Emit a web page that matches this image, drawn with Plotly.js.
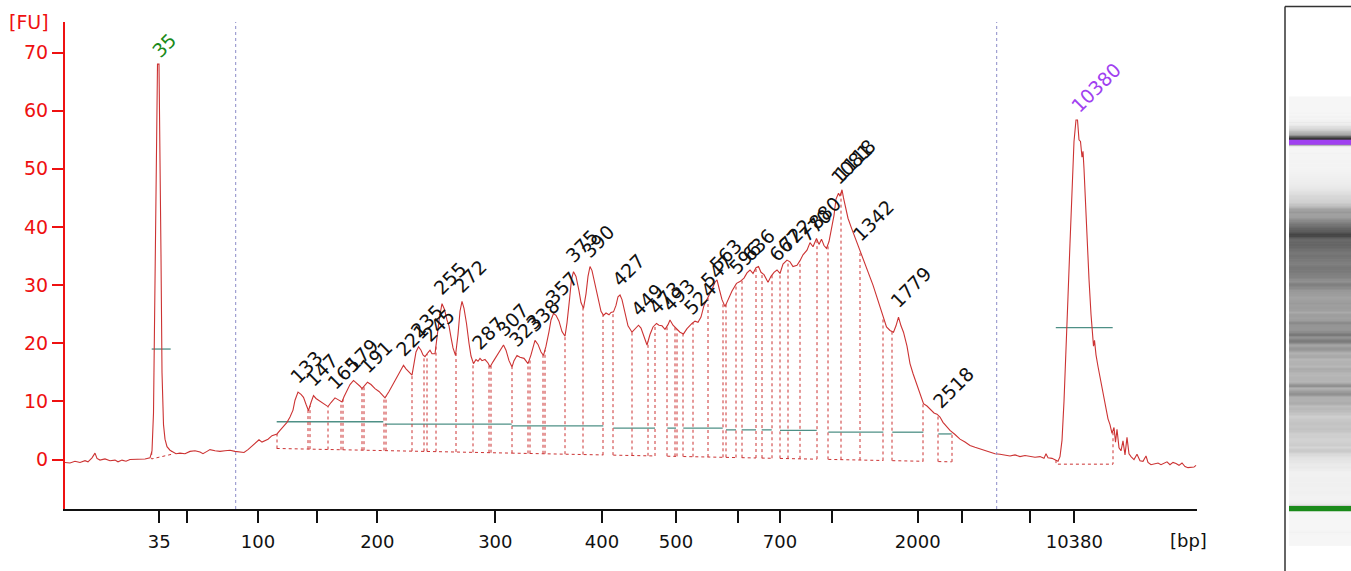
<!DOCTYPE html>
<html>
<head>
<meta charset="utf-8">
<script src="https://cdn.plot.ly/plotly-3.0.1.min.js"></script>
<style>
  html, body { margin: 0; padding: 0; background: #fff; }
  #chart { width: 1351px; height: 571px; }
</style>
</head>
<body>
<div id="chart"></div>
<script>
// Electropherogram trace: migration position vs fluorescence [FU]
const migration = [
  65, 70, 75, 80, 85, 88, 92, 95, 97, 100, 105, 110, 115, 118, 122, 126, 130, 135, 140, 145,
  150, 152, 153.5, 155, 156.5, 157.5, 159, 160, 161, 162, 163.5, 165, 167, 170, 173, 176, 180,
  185, 190, 195, 200, 203, 207, 210, 215, 220, 225, 230, 235, 240, 244, 248, 252, 256, 259, 262,
  265, 268, 272, 277, 280, 283, 287, 290, 293, 295, 298, 301, 303.5, 306, 308.5, 311, 313.5, 316,
  318.5, 322, 325, 328, 331, 335, 338, 342, 344, 347, 350, 353.5, 357, 360, 362, 364.5, 367.5,
  371, 375, 379, 382, 385, 389, 393, 397, 400, 403.5, 406, 409, 412, 414, 416, 418.5, 421, 423,
  425, 428, 430, 432, 435, 437, 439.5, 442, 444.5, 447, 449, 451, 453, 455.5, 458, 460, 462, 464,
  466.5, 469, 471, 473.5, 476, 478, 480, 482, 485, 488, 490, 493, 496, 500, 503.5, 506, 509, 512,
  514, 517, 520, 524, 528, 531, 535, 538, 541, 543.5, 546, 549, 551, 553.5, 556, 559, 562, 565,
  567, 569.5, 571.5, 573.5, 576, 579, 581, 583.5, 586, 588, 590, 592, 595, 598, 601, 603.5, 606,
  609, 611, 613.5, 616, 618, 620, 622, 625, 628, 632, 635, 638.5, 641, 644, 647, 650, 653, 656.5,
  659, 662, 665, 668, 670, 673, 676.5, 680, 683.5, 687, 692, 695, 698, 701, 704, 708.5, 712, 715,
  717, 719, 722, 725, 728, 732, 736.5, 740, 744, 747, 750, 753, 756, 758.5, 761, 764, 768, 771,
  774, 777, 780, 783, 787, 790, 793, 797, 800, 803, 807, 810, 813, 816.5, 819, 821.5, 824, 826.5,
  829, 831.5, 834, 836, 838.5, 840, 842, 843.5, 845.5, 848, 851.5, 855, 860, 863, 866, 870, 873,
  876, 880, 883, 886.5, 890, 893.5, 896, 898.5, 901, 903.5, 907, 910, 913, 916.5, 920, 923.5, 927,
  930, 934, 937, 940, 943, 946, 950, 955, 960, 965, 970, 975, 980, 985, 990, 995, 1000, 1005,
  1010, 1015, 1020, 1025, 1030, 1035, 1040, 1044, 1046, 1048, 1052, 1055, 1058, 1060, 1062, 1064,
  1066, 1068, 1070, 1072, 1074, 1076, 1077.5, 1079, 1080.5, 1082, 1083, 1084, 1086, 1087.5, 1089,
  1091, 1092.5, 1093.5, 1094.5, 1096, 1098, 1100, 1102, 1104, 1106, 1108, 1110, 1112, 1114,
  1115.5, 1117, 1119, 1121, 1123, 1125, 1127, 1129, 1131, 1134, 1137, 1140, 1143, 1146, 1148,
  1151, 1155, 1158, 1161, 1164, 1167, 1170, 1173, 1176, 1179, 1182, 1185, 1188, 1191, 1194, 1196
];
const fluorescence = [
  -0.5, -0.6, -0.3, -0.5, -0.2, -0.4, 0.3, 1.1, 0.2, -0.1, 0.1, -0.2, -0.1, -0.4, -0.1, -0.3, 0.0, 0.0, 0.1, 0.1,
  0.3, 1.5, 8, 30, 55, 68, 68, 55, 35, 15, 6, 3.5, 2.2, 1.6, 1.3, 1.0, 1.1,
  1.0, 1.4, 1.5, 1.3, 1.0, 1.4, 1.7, 1.5, 1.4, 1.5, 1.6, 1.4, 1.3, 1.2, 1.7, 2.3, 2.8, 3.4, 3.0,
  3.2, 3.5, 4.1, 4.4, 5.0, 5.6, 6.4, 7.3, 8.5, 10.2, 11.6, 11.2, 10.7, 9.5, 8.4, 9.8, 11.0, 10.5,
  10.2, 9.8, 9.4, 9.1, 9.8, 10.6, 10.3, 9.9, 10.8, 11.9, 12.9, 13.6, 13.1, 12.6, 12.2, 12.8, 13.3,
  12.9, 12.2, 11.7, 11.1, 10.6, 11.7, 13.0, 14.2, 15.3, 16.2, 15.6, 15.1, 14.5, 16.5, 18.5, 19.4, 18.8, 18.0,
  17.7, 18.4, 18.8, 18.2, 18.2, 21.0, 24.5, 26.8, 25.8, 24.0, 23.0, 21.0, 19.2, 17.9, 21.5, 25.5, 27.2, 26.0,
  23.4, 20.0, 17.8, 16.5, 17.2, 16.9, 17.4, 17.0, 17.2, 16.6, 15.9, 16.8, 17.6, 18.9, 19.7, 18.8, 17.0, 15.9,
  17.0, 17.9, 17.6, 17.4, 16.5, 18.0, 20.5, 19.8, 18.5, 17.9, 19.5, 22.0, 24.0, 25.1, 24.8, 23.8, 22.0, 21.2,
  23.5, 27.5, 31.0, 32.3, 31.5, 29.0, 27.0, 26.0, 28.5, 31.5, 33.2, 32.5, 30.0, 27.5, 25.5, 24.8, 25.2,
  24.9, 25.3, 25.4, 26.5, 28.0, 28.3, 27.5, 25.0, 23.0, 21.9, 22.5, 23.1, 22.6, 21.0, 19.7, 21.5, 22.8, 23.4,
  23.1, 23.0, 22.4, 23.2, 24.0, 23.1, 22.5, 21.9, 21.6, 22.5, 23.4, 23.8, 23.6, 24.5, 26.5, 28.0, 29.3, 30.5,
  30.9, 29.5, 27.5, 26.3, 27.5, 29.0, 30.3, 30.6, 31.2, 32.1, 32.6, 32.0, 33.0, 33.2, 32.2, 31.8, 30.5, 31.5,
  32.2, 32.6, 32.0, 33.6, 34.3, 34.0, 33.2, 33.4, 34.2, 35.2, 36.0, 37.3, 36.6, 38.0, 37.0, 37.9, 36.8, 36.3,
  37.5, 39.5, 42.0, 44.8, 45.8, 45.3, 46.4, 45.0, 43.5, 41.5, 39.8, 38.2, 36.0, 34.8, 33.5, 31.4, 30.0,
  28.4, 26.3, 24.5, 22.8, 22.2, 21.9, 23.0, 24.5, 23.0, 21.9, 19.5, 16.5, 14.8, 13.0, 11.2, 9.6, 9.2,
  8.7, 8.0, 7.8, 7.3, 6.4, 5.8, 5.0, 4.3, 3.5, 3.0, 2.4, 2.1, 1.8, 1.5, 1.2, 1.0, 0.9, 0.8,
  0.6, 0.8, 0.5, 0.7, 0.6, 0.4, 0.5, 0.2, 1.0, 0.3, 0.2, 0.0, -0.3, 0.5, 3.3, 10,
  18, 28, 37.2, 47, 54.7, 58.4, 58.4, 55, 54.7, 52, 53, 50, 42, 35.4, 31,
  25, 22.0, 19.5, 20.5, 18, 16, 14.2, 12.5, 10.5, 9.0, 7.0, 6.0, 4.5, 5.5,
  3.0, 5.2, 2.0, 1.5, 3.2, 0.8, 3.8, 1.0, 0.5, 0.0, 0.9, -0.2, -0.3, 0.6, -0.5,
  -0.9, -0.8, -0.6, -0.9, -0.7, -0.4, -0.9, -0.5, -0.7, -1.0, -0.6, -1.2, -1.4, -1.4, -1.3, -1.0
];

// Ladder positions on the migration axis and their size labels [bp]
const ladderPos = [159.3, 187.3, 258, 317.3, 377.3, 495.3, 602, 676, 737.7, 780, 832, 917.7, 962.3, 1030, 1074.3];
const ladderLabels = ["35", "", "100", "", "200", "300", "400", "500", "", "700", "", "2000", "", "", "10380"];

// Sizing window edges
const windowEdges = [235.7, 996.7];

// Called peaks
const peakSize = ["133", "147", "165", "179", "191", "221", "235", "245", "255", "272", "287", "307",
  "323", "338", "357", "375", "390", "427", "449", "473", "493", "524", "547", "563", "596", "636",
  "667", "722", "770", "880", "1081", "1118", "1342", "1779", "2518"];
const peakMig = [298, 313.5, 335, 353.5, 367.5, 403.5, 418.5, 430, 442, 462, 480, 503.5,
  517, 535, 553.5, 573.5, 590, 620, 638.5, 656.5, 670, 692, 708.5, 717, 736.5, 750,
  777, 787, 807, 816.5, 838.5, 842, 860, 898.5, 940];

// Markers
const markerSize = ["35", "10380"];
const markerMig = [158.3, 1076.7];
const markerColor = ["#1a8a1a", "#a040f0"];
const markerBoxX = [[151.7, 171.7], [1056, 1113]];
const markerBoxFU = [[0.1, 0.9], [-0.8, -0.8]];

// Peak region edges (dotted verticals)
const regionEdges = [277, 308, 310, 328, 341, 343, 362, 364, 384, 386, 412, 424, 427, 436, 456,
  473, 489, 491, 512, 528, 530, 543, 545, 565, 583, 603, 613, 632, 648, 655, 667, 675, 677, 683,
  693, 708, 723, 726, 736, 742, 756, 762, 772, 780, 788, 800, 817, 828, 841, 860, 883, 892, 923,
  938, 952];

// Region spans with their width-line level [FU]
const spanStart = [151.7, 276.7, 385, 511.7, 613.3, 667.3, 683.3, 726, 741.7, 761.7, 780, 828.3, 892.3, 938.3, 1055.8];
const spanEnd = [170.7, 383.3, 511.7, 603.3, 655, 676, 722.7, 736, 756, 771.7, 816.7, 883.3, 923.3, 951.7, 1112.7];
const spanLevel = [19.0, 6.5, 6.1, 5.8, 5.4, 5.4, 5.4, 5.1, 5.1, 5.1, 5.0, 4.7, 4.7, 4.4, 22.7];

// Sample baseline (two end points)
const baselineX = [276.7, 952];
const baselineFU = [1.9, -0.4];

function interp(xs, ys, x) {
  if (x <= xs[0]) return ys[0];
  for (let i = 0; i < xs.length - 1; i++) {
    if (x <= xs[i + 1]) {
      const t = (x - xs[i]) / (xs[i + 1] - xs[i]);
      return ys[i] + t * (ys[i + 1] - ys[i]);
    }
  }
  return ys[ys.length - 1];
}
const fuAt = (x) => interp(migration, fluorescence, x);
const baseAt = (x) => interp(baselineX, baselineFU, x);

const RED = "#cc3333";
const AXIS_RED = "#ee1111";
const TEAL = "#4e9086";
const FONT = "DejaVu Sans";

// dotted region boxes
const boxX = [], boxY = [];
regionEdges.forEach((e) => {
  boxX.push(e, e, null);
  boxY.push(baseAt(e), fuAt(e), null);
});
for (let i = 1; i < spanStart.length - 1; i++) {
  boxX.push(spanStart[i], spanEnd[i], null);
  boxY.push(baseAt(spanStart[i]), baseAt(spanEnd[i]), null);
}
markerBoxX.forEach((bx, i) => {
  boxX.push(bx[0], bx[0], bx[1], bx[1], null);
  boxY.push(fuAt(bx[0]), markerBoxFU[i][0], markerBoxFU[i][1], fuAt(bx[1]), null);
});

// width lines
const tealX = [], tealY = [];
spanStart.forEach((s, i) => {
  tealX.push(s, spanEnd[i], null);
  tealY.push(spanLevel[i], spanLevel[i], null);
});

const traces = [
  {
    x: tealX, y: tealY, type: "scatter", mode: "lines",
    line: { color: TEAL, width: 1.3 }, xaxis: "x", yaxis: "y", hoverinfo: "skip"
  },
  {
    x: boxX, y: boxY, type: "scatter", mode: "lines",
    line: { color: RED, width: 1, dash: "dot" }, xaxis: "x", yaxis: "y", hoverinfo: "skip"
  },
  {
    x: migration, y: fluorescence, type: "scatter", mode: "lines",
    line: { color: RED, width: 1.1 }, xaxis: "x", yaxis: "y"
  },
  {
    // gel lane
    type: "heatmap", x: [0], y: migration, z: fluorescence.map((v) => [v]),
    zmin: 0, zmax: 50, zsmooth: false, showscale: false,
    colorscale: [[0, "rgb(246,246,246)"], [1, "rgb(55,55,55)"]],
    xaxis: "x2", yaxis: "y2", hoverinfo: "skip"
  }
];

const annotations = [];
peakSize.forEach((s, i) => {
  annotations.push({
    x: peakMig[i], y: fuAt(peakMig[i]), xref: "x", yref: "y",
    text: s, showarrow: false, textangle: -45,
    xanchor: "left", yanchor: "bottom", xshift: -15, yshift: 2,
    font: { family: FONT, size: 19, color: "#111" }
  });
});
markerSize.forEach((s, i) => {
  annotations.push({
    x: markerMig[i], y: fuAt(markerMig[i]), xref: "x", yref: "y",
    text: s, showarrow: false, textangle: -45,
    xanchor: "left", yanchor: "bottom", xshift: -13, yshift: 0,
    font: { family: FONT, size: 19, color: markerColor[i] }
  });
});
annotations.push(
  { x: 29 / 1351, y: (571 - 22) / 571, xref: "paper", yref: "paper", text: "[FU]", showarrow: false,
    xanchor: "center", yanchor: "middle", font: { family: FONT, size: 19, color: AXIS_RED } },
  { x: 1188 / 1351, y: (571 - 540) / 571, xref: "paper", yref: "paper", text: "[bp]", showarrow: false,
    xanchor: "center", yanchor: "middle", font: { family: FONT, size: 18, color: "#111" } }
);

const shapes = windowEdges.map((e) => ({
  type: "line", xref: "x", yref: "y domain", x0: e, x1: e, y0: 0, y1: 1,
  line: { color: "#8c8cc8", width: 1, dash: "dot" }
}));
// coloured marker bands in the gel
markerMig.forEach((m, i) => {
  shapes.push({
    type: "rect", xref: "x2 domain", yref: "y2", x0: 0, x1: 1, y0: m - 10, y1: m + 3,
    fillcolor: markerColor[i], line: { width: 0 }
  });
});
// gel frame
shapes.push(
  { type: "line", xref: "paper", yref: "paper", x0: 1285 / 1351, x1: 1285 / 1351, y0: -0.01, y1: (571 - 6.5) / 571,
    line: { color: "#333", width: 1.5 } },
  { type: "line", xref: "paper", yref: "paper", x0: 1285 / 1351, x1: 1.01, y0: (571 - 6.5) / 571, y1: (571 - 6.5) / 571,
    line: { color: "#333", width: 1.5 } }
);

const layout = {
  width: 1351, height: 571,
  margin: { l: 0, r: 0, t: 0, b: 0 },
  paper_bgcolor: "#fff", plot_bgcolor: "#fff",
  showlegend: false,
  font: { family: FONT, size: 18, color: "#111" },
  xaxis: {
    domain: [65 / 1351, 1197 / 1351], range: [65, 1197], anchor: "y",
    showline: true, linecolor: "#111", linewidth: 2,
    ticks: "outside", ticklen: 12, tickwidth: 2, tickcolor: "#111",
    tickvals: ladderPos, ticktext: ladderLabels, ticklabelstandoff: 3,
    tickfont: { family: FONT, size: 18, color: "#111" },
    showgrid: false, zeroline: false
  },
  yaxis: {
    domain: [(571 - 509) / 571, (571 - 22) / 571], range: [-8.51, 75.25], anchor: "x",
    showline: true, linecolor: AXIS_RED, linewidth: 2,
    ticks: "outside", ticklen: 11, tickwidth: 2, tickcolor: AXIS_RED,
    tickvals: [0, 10, 20, 30, 40, 50, 60, 70],
    tickfont: { family: FONT, size: 19, color: AXIS_RED },
    showgrid: false, zeroline: false
  },
  xaxis2: {
    domain: [1289 / 1351, 1], range: [-0.5, 0.5], anchor: "y2",
    visible: false
  },
  yaxis2: {
    domain: [(571 - 546) / 571, (571 - 96.5) / 571], range: [61.3, 1187.8], anchor: "x2",
    visible: false
  },
  annotations: annotations,
  shapes: shapes
};

Plotly.newPlot("chart", traces, layout, { staticPlot: true, displayModeBar: false });
</script>
</body>
</html>
